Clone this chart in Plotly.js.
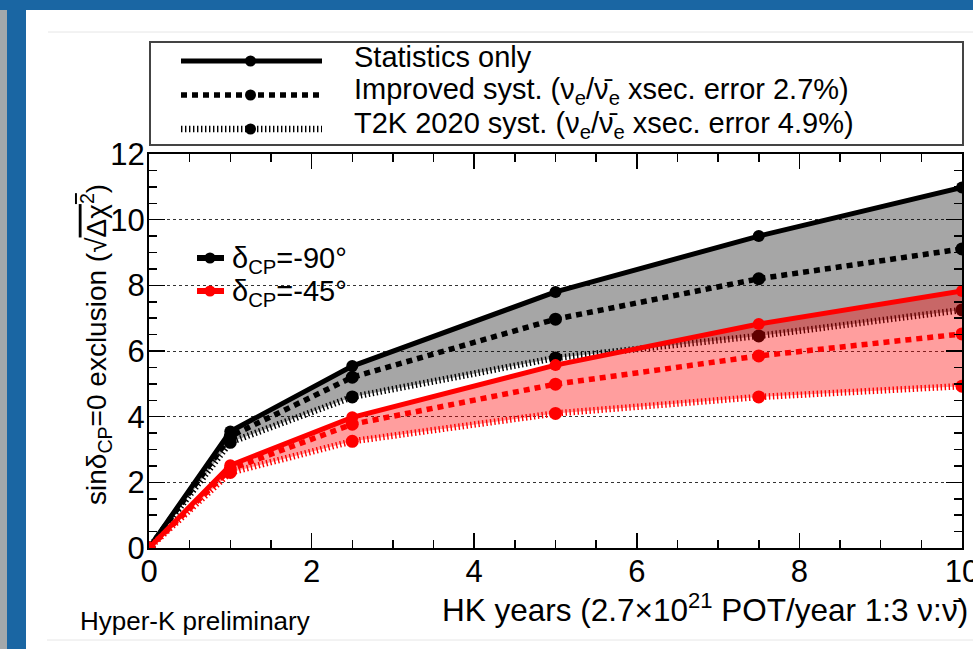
<!DOCTYPE html>
<html><head><meta charset="utf-8">
<script src="https://cdn.plot.ly/plotly-3.0.1.min.js"></script>
<style>html,body{margin:0;padding:0;background:#fff}#c{width:973px;height:649px}</style>
</head><body><div id="c"></div>
<script>
// ---- data ----
const years = [0, 1, 2.5, 5, 7.5, 10];
const m90_stat = [0, 3.55, 5.54, 7.80, 9.50, 10.98];
const m90_impr = [0, 3.40, 5.20, 6.97, 8.20, 9.11];
const m90_t2k  = [0, 3.22, 4.60, 5.79, 6.46, 7.25];
const m45_stat = [0, 2.52, 3.98, 5.57, 6.82, 7.83];
const m45_impr = [0, 2.40, 3.77, 4.99, 5.85, 6.52];
const m45_t2k  = [0, 2.30, 3.25, 4.10, 4.60, 4.93];
const NUBAR = "ν\u0304";
const legendLabels = ["Statistics only",
  "Improved syst. (ν<sub>e</sub>/" + NUBAR + "<sub>e</sub> xsec. error 2.7%)",
  "T2K 2020 syst. (ν<sub>e</sub>/" + NUBAR + "<sub>e</sub> xsec. error 4.9%)"];
const dcpLabels = ["δ<sub>CP</sub>=-90°", "δ<sub>CP</sub>=-45°"];
const yTitle = "sinδ<sub>CP</sub>=0 exclusion (√<span style='text-decoration:overline'>Δχ<sup>2</sup></span>)";
const xTitle = "HK years (2.7×10<sup>21</sup> POT/year 1:3 ν:" + NUBAR + ")";
const tagText = "Hyper-K preliminary";

// ---- geometry helpers ----
const W = 973, H = 649, L = 149, R = 11, T = 154, B = 101;
const PW = W - L - R, PH = H - T - B;
const px = v => (v - L) / PW;
const py = v => (H - B - v) / PH;

const FONT = "Liberation Sans, Arial, sans-serif";
const solid = {dash: 'solid', width: 5};
const dashI = {dash: '6px,5px', width: 5.5};
const dashT = {dash: '1.4px,2.6px', width: 6.5};

function tr(y, col, st, msize, fill, fillcolor) {
  const t = {x: years, y: y, mode: 'lines+markers', type: 'scatter',
    line: {color: col, dash: st.dash, width: st.width},
    marker: {color: col, size: msize, symbol: 'circle'},
    showlegend: false, hoverinfo: 'skip'};
  if (fill) { t.fill = 'tonexty'; t.fillcolor = fillcolor; }
  return t;
}
const data = [
  tr(m90_t2k, '#000', dashT, 13),
  tr(m90_stat, '#000', solid, 12, true, 'rgba(0,0,0,0.35)'),
  tr(m90_impr, '#000', dashI, 13),
  tr(m45_t2k, '#ff0000', dashT, 13),
  tr(m45_stat, '#ff0000', solid, 12, true, 'rgba(255,0,0,0.38)'),
  tr(m45_impr, '#ff0000', dashI, 13)
];

const shapes = [];
const annotations = [];
// background frame (slide border)
shapes.push({type:'rect', xref:'paper', yref:'paper', x0:px(0), x1:px(26), y0:py(H), y1:py(0), fillcolor:'#1a66a3', line:{width:0}, layer:'below'});
shapes.push({type:'rect', xref:'paper', yref:'paper', x0:px(0), x1:px(W), y0:py(10), y1:py(0), fillcolor:'#1a66a3', line:{width:0}, layer:'below'});
shapes.push({type:'rect', xref:'paper', yref:'paper', x0:px(0), x1:px(7), y0:py(H), y1:py(10), fillcolor:'#a3a8ab', line:{width:0}, layer:'below'});
shapes.push({type:'line', xref:'paper', yref:'paper', x0:px(48), x1:px(W), y0:py(32), y1:py(32), line:{color:'#e6e6e6', width:1}});
shapes.push({type:'line', xref:'paper', yref:'paper', x0:px(47), x1:px(W), y0:py(640), y1:py(640), line:{color:'#e6e6e6', width:1}});

// top legend box
shapes.push({type:'rect', xref:'paper', yref:'paper', x0:px(150), x1:px(963), y0:py(145), y1:py(42), line:{color:'#444', width:2}, fillcolor:'rgba(255,255,255,0)'});
const legY = [61, 95, 129];
const legStyles = [solid, dashI, dashT];
legY.forEach((yy, i) => {
  shapes.push({type:'line', xref:'paper', yref:'paper', x0:px(181), x1:px(322), y0:py(yy), y1:py(yy), line:{color:'#000', width:legStyles[i].width, dash:legStyles[i].dash}});
  shapes.push({type:'circle', xref:'paper', yref:'paper', x0:px(245), x1:px(256), y0:py(yy+5.5), y1:py(yy-5.5), fillcolor:'#000', line:{width:0}});
  annotations.push({xref:'paper', yref:'paper', x:px(352), y:py(yy-4), xanchor:'left', yanchor:'middle', showarrow:false, text:legendLabels[i], font:{family:FONT, size:29, color:'#000'}});
});

// δCP legend
const dcpY = [258, 291];
const dcpCol = ['#000', '#ff0000'];
dcpY.forEach((yy, i) => {
  shapes.push({type:'line', xref:'paper', yref:'paper', x0:px(197), x1:px(224), y0:py(yy), y1:py(yy), line:{color:dcpCol[i], width:6}});
  shapes.push({type:'circle', xref:'paper', yref:'paper', x0:px(204.5), x1:px(215.5), y0:py(yy+5.5), y1:py(yy-5.5), fillcolor:dcpCol[i], line:{width:0}});
  annotations.push({xref:'paper', yref:'paper', x:px(230), y:py(yy+2), xanchor:'left', yanchor:'middle', showarrow:false, text:dcpLabels[i], font:{family:FONT, size:29, color:'#000'}});
});

// axis titles & tag
annotations.push({xref:'paper', yref:'paper', x:px(96), y:py(345), xanchor:'center', yanchor:'middle', textangle:-90, showarrow:false,
  text:yTitle, font:{family:FONT, size:28, color:'#000'}});
annotations.push({xref:'paper', yref:'paper', x:px(970), y:py(608), xanchor:'right', yanchor:'middle', showarrow:false,
  text:xTitle, font:{family:FONT, size:31.5, color:'#000'}});
annotations.push({xref:'paper', yref:'paper', x:px(78), y:py(621), xanchor:'left', yanchor:'middle', showarrow:false,
  text:tagText, font:{family:FONT, size:26, color:'#000'}});

const layout = {
  width: W, height: H,
  margin: {l: L, r: R, t: T, b: B, pad: 0},
  paper_bgcolor: '#fff', plot_bgcolor: '#fff',
  showlegend: false,
  font: {family: FONT, color: '#000'},
  xaxis: {range: [0, 10], dtick: 2, tick0: 0, ticks: 'inside', ticklen: 15, tickwidth: 1.5, tickcolor: '#000',
    showline: true, linewidth: 2, linecolor: '#000', mirror: 'allticks', showgrid: false, zeroline: false,
    tickfont: {family: FONT, size: 31}, ticklabelstandoff: -5, ticklabeloverflow: 'allow',
    minor: {dtick: 0.5, ticks: 'inside', ticklen: 8, tickwidth: 1.5, tickcolor: '#000', showgrid: false}},
  yaxis: {range: [0, 12], dtick: 2, tick0: 0, ticks: 'inside', ticklen: 16, tickwidth: 1.5, tickcolor: '#000',
    showline: true, linewidth: 2, linecolor: '#000', mirror: 'allticks', showgrid: true, gridcolor: '#333', gridwidth: 1, griddash: 'dot',
    zeroline: false, tickfont: {family: FONT, size: 31}, ticklabelstandoff: -4, ticklabeloverflow: 'allow',
    minor: {dtick: 0.5, ticks: 'inside', ticklen: 8, tickwidth: 1.5, tickcolor: '#000', showgrid: false}},
  shapes: shapes,
  annotations: annotations
};
Plotly.newPlot('c', data, layout, {staticPlot: true, displayModeBar: false});
</script></body></html>
